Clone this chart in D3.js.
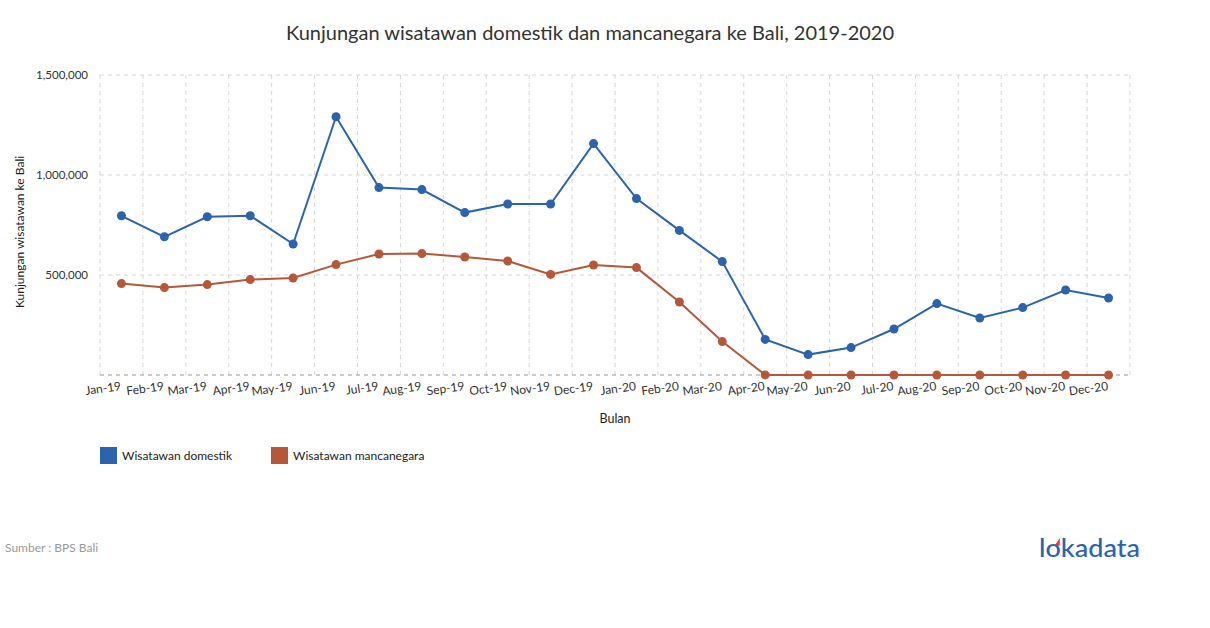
<!DOCTYPE html>
<html>
<head>
<meta charset="utf-8">
<script src="https://cdn.jsdelivr.net/npm/d3@7"></script>
<style>
  body { margin: 0; background: #fff; font-family: Lato, "Open Sans", sans-serif; }
  svg text { font-family: Lato, "Open Sans", sans-serif; }
</style>
</head>
<body>
<svg id="chart" width="1210" height="628"></svg>
<script>
// data
const months = ["Jan-19","Feb-19","Mar-19","Apr-19","May-19","Jun-19","Jul-19","Aug-19","Sep-19","Oct-19","Nov-19","Dec-19",
                "Jan-20","Feb-20","Mar-20","Apr-20","May-20","Jun-20","Jul-20","Aug-20","Sep-20","Oct-20","Nov-20","Dec-20"];
const domestik = [796000, 691000, 791000, 796000, 655000, 1291000, 937000, 927000, 812000, 855000, 855000, 1157000,
                  882000, 723000, 567000, 178000, 102000, 137000, 230000, 357000, 285000, 337000, 425000, 385000];
const mancanegara = [457000, 437000, 452000, 477000, 485000, 552000, 605000, 607000, 590000, 570000, 503000, 550000,
                     537000, 365000, 167000, 327, 36, 11, 16, 12, 9, 16, 23, 10];
const yTicks = [500000, 1000000, 1500000];
const seriesNames = ["Wisatawan domestik", "Wisatawan mancanegara"];
const colors = ["#2b63ad", "#b5583a"];

const svg = d3.select("#chart");
const margin = {left: 100, right: 80, top: 75, bottom: 253};
const W = 1210, H = 628;

const x = d3.scaleBand().domain(months).range([margin.left, W - margin.right]);
const y = d3.scaleLinear().domain([0, 1500000]).range([H - margin.bottom, margin.top]);

// title
svg.append("text")
  .attr("x", 590).attr("y", 40)
  .attr("text-anchor", "middle")
  .attr("font-size", 20).attr("fill", "#333")
  .text("Kunjungan wisatawan domestik dan mancanegara ke Bali, 2019-2020");

// vertical grid at band edges
const edges = months.map(m => x(m)).concat([x.range()[1]]);
svg.append("g").selectAll("line").data(edges).join("line")
  .attr("x1", d => d).attr("x2", d => d)
  .attr("y1", y(1500000)).attr("y2", y(0))
  .attr("stroke", "#d6d6d6").attr("stroke-dasharray", "4,4");

// horizontal grid
svg.append("g").selectAll("line").data(yTicks).join("line")
  .attr("x1", margin.left).attr("x2", W - margin.right)
  .attr("y1", d => y(d)).attr("y2", d => y(d))
  .attr("stroke", "#d6d6d6").attr("stroke-dasharray", "4,4");

// baseline
svg.append("line")
  .attr("x1", margin.left).attr("x2", W - margin.right)
  .attr("y1", y(0)).attr("y2", y(0))
  .attr("stroke", "#999").attr("stroke-dasharray", "4,4");

// y axis labels
const fmt = d3.format(",");
svg.append("g").selectAll("text").data(yTicks).join("text")
  .attr("x", margin.left - 12).attr("y", d => y(d) + 4)
  .attr("text-anchor", "end").attr("font-size", 11.5).attr("fill", "#333")
  .text(d => fmt(d));

svg.append("text")
  .attr("transform", `translate(24,232) rotate(-90)`)
  .attr("text-anchor", "middle").attr("font-size", 12).attr("fill", "#222")
  .text("Kunjungan wisatawan ke Bali");

// x axis labels, slightly tilted
svg.append("g").selectAll("text").data(months).join("text")
  .attr("transform", d => `translate(${x(d) + x.bandwidth() / 2},${y(0) + 15}) rotate(-8)`)
  .attr("text-anchor", "end").attr("font-size", 12).attr("fill", "#333")
  .text(d => d);

svg.append("text")
  .attr("x", 615).attr("y", 423)
  .attr("text-anchor", "middle").attr("font-size", 12.5).attr("fill", "#222")
  .text("Bulan");

// lines and points
const cx = d => x(d) + x.bandwidth() / 2;
[domestik, mancanegara].forEach((vals, i) => {
  const line = d3.line().x((d, j) => cx(months[j])).y(d => y(d));
  svg.append("path").datum(vals)
    .attr("d", line).attr("fill", "none")
    .attr("stroke", colors[i]).attr("stroke-width", 2);
  svg.append("g").selectAll("circle").data(vals).join("circle")
    .attr("cx", (d, j) => cx(months[j])).attr("cy", d => y(d))
    .attr("r", 4.5).attr("fill", colors[i]);
});

// legend
const legendX = [100, 271];
seriesNames.forEach((name, i) => {
  svg.append("rect")
    .attr("x", legendX[i]).attr("y", 447).attr("width", 17).attr("height", 17)
    .attr("fill", colors[i]);
  svg.append("text")
    .attr("x", legendX[i] + 22).attr("y", 460)
    .attr("font-size", 12).attr("fill", "#222")
    .text(name);
});

// source
svg.append("text")
  .attr("x", 5).attr("y", 552)
  .attr("font-size", 12).attr("fill", "#999")
  .text("Sumber : BPS Bali");

// logo
svg.append("text")
  .attr("x", 1039).attr("y", 557)
  .attr("font-size", 25).attr("font-weight", 500).attr("fill", "#2b63ad")
  .attr("textLength", 101).attr("lengthAdjust", "spacingAndGlyphs")
  .text("lokadata");
svg.append("path")
  .attr("d", "M1055,545 l5,-7 l-0.5,8 z")
  .attr("fill", "#e03c31");
</script>
</body>
</html>
